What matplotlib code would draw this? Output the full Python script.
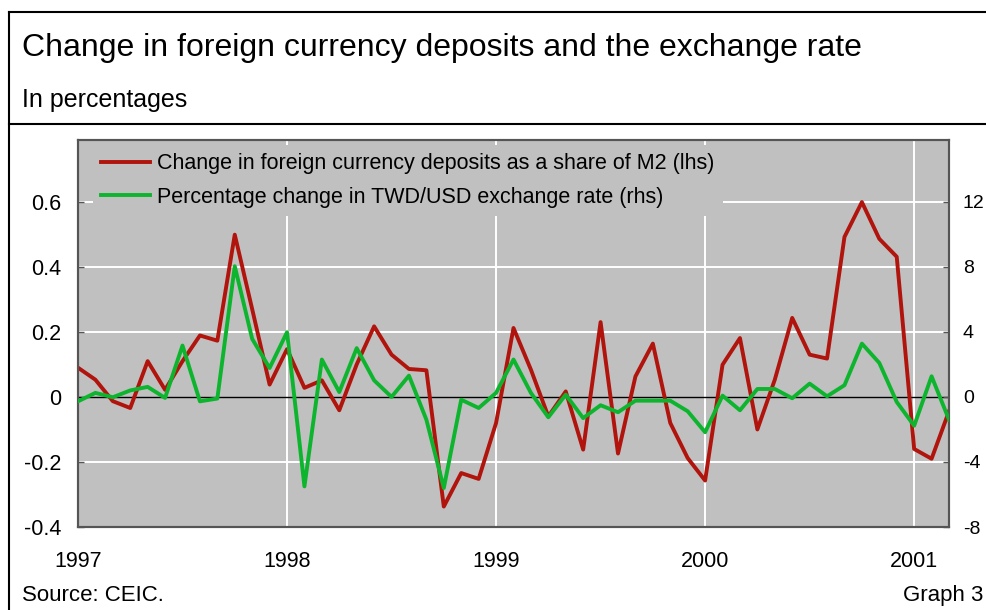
import matplotlib.pyplot as plt
from matplotlib.lines import Line2D
import numpy as np

plt.rcParams['font.family'] = ['Liberation Sans', 'DejaVu Sans']

# monthly, Jan 1997 .. Mar 2001
start_year = 1997
deposits_share = [0.09, 0.053, -0.013, -0.034, 0.11, 0.022, 0.11, 0.189, 0.173, 0.499,
                  0.27, 0.038, 0.147, 0.028, 0.051, -0.041, 0.1, 0.217, 0.13, 0.086,
                  0.082, -0.337, -0.234, -0.252, -0.08, 0.212, 0.084, -0.06, 0.017, -0.162,
                  0.23, -0.174, 0.063, 0.164, -0.08, -0.188, -0.257, 0.099, 0.181, -0.1,
                  0.053, 0.243, 0.13, 0.118, 0.492, 0.599, 0.486, 0.431, -0.16, -0.19,
                  -0.044]
twd_usd_change = [-0.27, 0.25, -0.02, 0.4, 0.62, -0.06, 3.16, -0.27, -0.1, 8.04,
                  3.57, 1.78, 3.98, -5.5, 2.3, 0.3, 3.0, 1.02, 0.0, 1.31,
                  -1.4, -5.6, -0.17, -0.68, 0.25, 2.3, 0.25, -1.25, 0.14, -1.3,
                  -0.51, -0.94, -0.23, -0.23, -0.23, -0.88, -2.17, 0.08, -0.82, 0.49,
                  0.49, -0.08, 0.82, 0.04, 0.72, 3.28, 2.09, -0.31, -1.77, 1.27,
                  -1.4]
years = [1997, 1998, 1999, 2000, 2001]
lhs_ticks = [-0.4, -0.2, 0, 0.2, 0.4, 0.6]
lhs_labels = ['-0.4', '-0.2', '0', '0.2', '0.4', '0.6']
rhs_ticks = [-8, -4, 0, 4, 8, 12]

x = start_year + np.arange(len(deposits_share)) / 12.0

RED = '#B0140C'
GREEN = '#0DB52E'
BG = '#C0C0C0'

fig = plt.figure(figsize=(9.87, 6.10), dpi=100)
ax = fig.add_axes([0.079, 0.136, 0.8825, 0.6345])
ax2 = ax.twinx()

ax.set_facecolor(BG)
ax.set_xlim(x[0], x[-1])
ax.set_ylim(-0.4, 0.79)
ax2.set_ylim(-8, 15.8)

# grid
for yv in [-0.2, 0.2, 0.4, 0.6]:
    ax.axhline(yv, color='white', lw=1.4, zorder=1)
for yr in years[1:]:
    ax.axvline(yr, color='white', lw=1.4, zorder=1)
ax.axhline(0, color='black', lw=1.0, zorder=2)

ax.plot(x, deposits_share, color=RED, lw=2.8, zorder=3,
        label='Change in foreign currency deposits as a share of M2 (lhs)')
ax2.plot(x, twd_usd_change, color=GREEN, lw=2.8, zorder=3,
         label='Percentage change in TWD/USD exchange rate (rhs)')

ax.set_xticks(years)
ax.set_xticklabels([str(y) for y in years])
ax.set_yticks(lhs_ticks)
ax.set_yticklabels(lhs_labels)
ax2.set_yticks(rhs_ticks)
ax2.set_yticklabels([str(v) for v in rhs_ticks])

ax.tick_params(axis='x', length=0, pad=17, labelsize=15.5)
ax.tick_params(axis='y', direction='in', length=4, width=1, color='#555555', pad=12, labelsize=15.5)
ax2.tick_params(axis='y', direction='in', length=4, width=1, color='#555555', pad=10, labelsize=14)

for a in (ax, ax2):
    for s in a.spines.values():
        s.set_color('#555555')
        s.set_linewidth(1.5)

h1, l1 = ax.get_legend_handles_labels()
h2, l2 = ax2.get_legend_handles_labels()
leg = ax2.legend(h1 + h2, l1 + l2, loc='upper left', bbox_to_anchor=(0.0167, 0.988),
                 frameon=True, facecolor=BG, edgecolor=BG, framealpha=1, fancybox=False,
                 fontsize=15.5, handlelength=2.25, handletextpad=0.33, labelspacing=0.58,
                 borderpad=0.4, borderaxespad=0.0)
leg.set_zorder(2)
leg.get_frame().set_linewidth(0)

# header, borders, footer
fig.text(0.022, 0.921, 'Change in foreign currency deposits and the exchange rate',
         fontsize=23, va='center', ha='left')
fig.text(0.022, 0.836, 'In percentages', fontsize=18, va='center', ha='left')
fig.text(0.022, 0.024, 'Source: CEIC.', fontsize=16, va='center', ha='left')
fig.text(0.996, 0.024, 'Graph 3', fontsize=16, va='center', ha='right')

fig.add_artist(Line2D([0.009, 1.0], [0.980, 0.980], color='black', lw=1.5))
fig.add_artist(Line2D([0.009, 1.0], [0.7967, 0.7967], color='black', lw=1.5))
fig.add_artist(Line2D([0.009, 0.009], [0.0, 0.980], color='black', lw=1.5))

fig.savefig('out.png', dpi=100)
